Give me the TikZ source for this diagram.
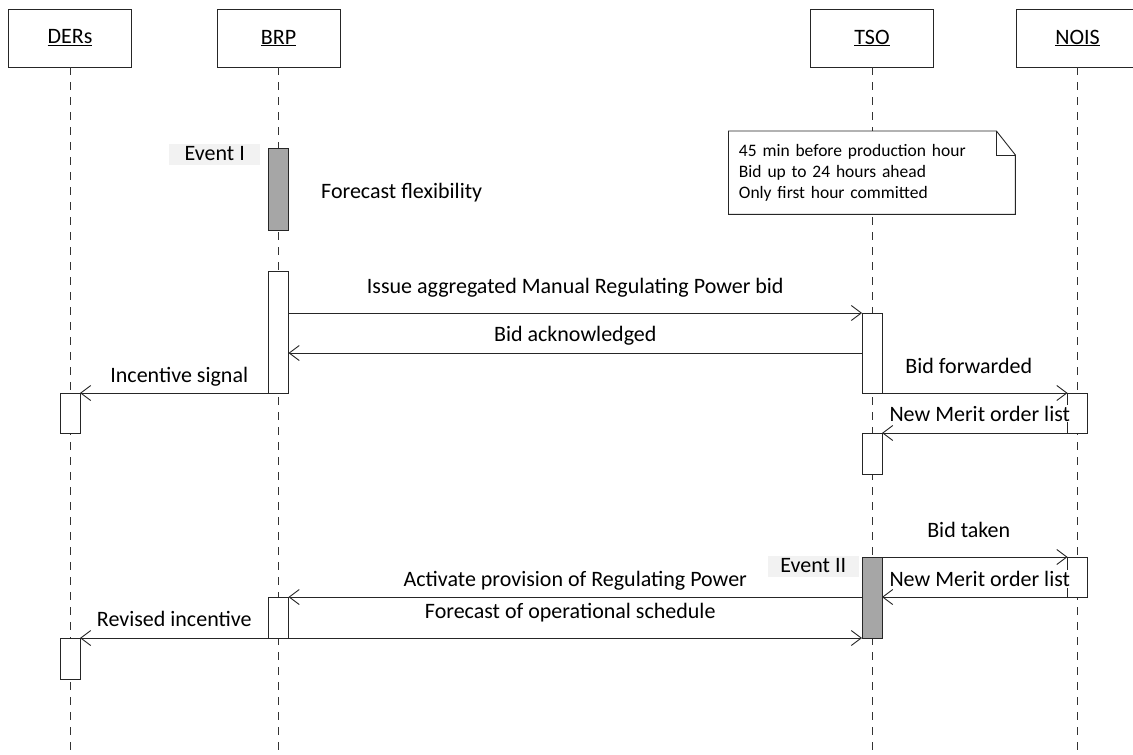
\documentclass[tikz,border=0pt]{standalone}
\usepackage{fontspec}
\setmainfont{Carlito}
\usetikzlibrary{arrows.meta, positioning}

\begin{document}
\begin{tikzpicture}[
    x=1pt, y=-1pt,
    >={Straight Barb[length=10pt, width=15pt]},
    % Styles
    headbox/.style={rectangle, draw=black!85, fill=white, minimum width=123pt, minimum height=58pt, inner sep=0pt, outer sep=0pt, font=\fontsize{22pt}{26pt}\selectfont, line width=0.9pt},
    lifeline/.style={draw=black!80, dash pattern=on 8pt off 7pt, line width=0.8pt},
    actbar/.style={rectangle, draw=black!85, fill=#1, minimum width=20pt, inner sep=0pt, outer sep=0pt, anchor=north, line width=0.9pt},
    actbar/.default=white,
    msgarrow/.style={->, draw=black!85, line width=0.9pt},
    msglabel/.style={fill=white, inner sep=1pt, anchor=base, font=\fontsize{22pt}{26pt}\selectfont},
    evlabel/.style={fill=black!5, minimum width=91pt, text height=15pt, text depth=4pt, inner xsep=0pt, inner ysep=1pt, font=\fontsize{22pt}{26pt}\selectfont},
    notebox/.style={rectangle, fill=white, minimum width=286.5pt, minimum height=83pt, text width=266pt, inner xsep=10pt, inner ysep=0pt, align=left, font=\fontsize{17.5pt}{21pt}\selectfont},
    noteline/.style={draw=black!85, line width=0.9pt, line join=miter},
]

% === CANVAS ===
\fill[white] (0,0) rectangle (1133,755);
\useasboundingbox (0,0) rectangle (1133,755);
\clip (0,0) rectangle (1133,755);

% === LIFELINE HEADS ===
\node[headbox] (ders) at (70,38) {\underline{DERs}};
\node[headbox, right=85.5pt of ders] (brp) {\underline{BRP}};
\node[headbox, right=470.5pt of brp] (tso) {\underline{TSO}};
\node[headbox, right=82.5pt of tso] (nois) {\underline{NOIS}};

% === LIFELINES ===
\coordinate (bottom) at (0,755);
\foreach \who in {ders, brp, tso, nois}
    \draw[lifeline] (\who.south) -- (\who.south |- bottom);

% === NOTE ===
\node[notebox, anchor=north west] (note) at (728.5,131) {45 min before production hour\\Bid up to 24 hours ahead\\Only first hour committed};
\draw[noteline] (note.north west) -- ([xshift=-19pt]note.north east) -- ([yshift=-24pt]note.north east) -- (note.south east) -- (note.south west) -- cycle;
\draw[noteline] ([xshift=-19pt]note.north east) -- ([xshift=-19pt, yshift=-24pt]note.north east) -- ([yshift=-24pt]note.north east);

% === ACTIVATION BARS ===
\node[actbar=black!35, minimum height=82pt] (brpev) at (brp.south |- 0,148) {};
\node[actbar, minimum height=122pt] (brp2) at (brp.south |- 0,271) {};
\node[actbar, minimum height=40pt] (ders1) at (ders.south |- 0,393) {};
\node[actbar, minimum height=80pt] (tso1) at (tso.south |- 0,313) {};
\node[actbar, minimum height=40pt] (nois1) at (nois.south |- 0,393) {};
\node[actbar, minimum height=41pt] (tso2) at (tso.south |- 0,433) {};
\node[actbar=black!35, minimum height=81pt] (tsoev) at (tso.south |- 0,557) {};
\node[actbar, minimum height=40pt] (nois2) at (nois.south |- 0,557) {};
\node[actbar, minimum height=41pt] (brp3) at (brp.south |- 0,597) {};
\node[actbar, minimum height=41pt] (ders2) at (ders.south |- 0,638) {};

% === EVENTS ===
\node[evlabel, anchor=north east] (evI) at ([xshift=-8pt, yshift=4pt]brpev.north west) {Event I};
\node[evlabel, anchor=north east] (evII) at ([xshift=-3pt, yshift=1pt]tsoev.north west) {Event II};
\coordinate (flexY) at (0,198);
\node[msglabel, fill=none, anchor=base west, xshift=31.5pt] (flex) at (brpev.east |- flexY) {Forecast flexibility};

% === MESSAGES ===
\draw[msgarrow] (brp2.east |- tso1.north) -- (tso1.north west) node[msglabel, midway, yshift=19.5pt] {Issue aggregated Manual Regulating Power bid};
\coordinate (ack) at (0,353);
\draw[msgarrow] (tso1.west |- ack) -- (brp2.east |- ack) node[msglabel, midway, yshift=11.5pt] {Bid acknowledged};
\draw[msgarrow] (brp2.south west) -- (ders1.north east) node[msglabel, midway, yshift=10.5pt, xshift=5pt] {Incentive signal};
\draw[msgarrow] (tso1.south east) -- (nois1.north west) node[msglabel, midway, yshift=20pt, xshift=-6pt] {Bid forwarded};
\draw[msgarrow] (nois1.south west) -- (tso2.north east) node[msglabel, midway, yshift=12pt, xshift=5pt] {New Merit order list};
\draw[msgarrow] (tsoev.north east) -- (nois2.north west) node[msglabel, midway, yshift=20pt, xshift=-6pt] {Bid taken};
\draw[msgarrow] (nois2.south west) -- (tsoev.east |- nois2.south) node[msglabel, midway, yshift=10.5pt, xshift=5pt] {New Merit order list};
\draw[msgarrow] (tsoev.west |- brp3.north) -- (brp3.north east) node[msglabel, midway, yshift=10.5pt] {Activate provision of Regulating Power};
\draw[msgarrow] (brp3.south east) -- (tsoev.south west) node[msglabel, midway, yshift=20pt, xshift=-5pt] {Forecast of operational schedule};
\draw[msgarrow] (brp3.south west) -- (ders2.north east) node[msglabel, midway, yshift=11.5pt] {Revised incentive};

\end{tikzpicture}
\end{document}
